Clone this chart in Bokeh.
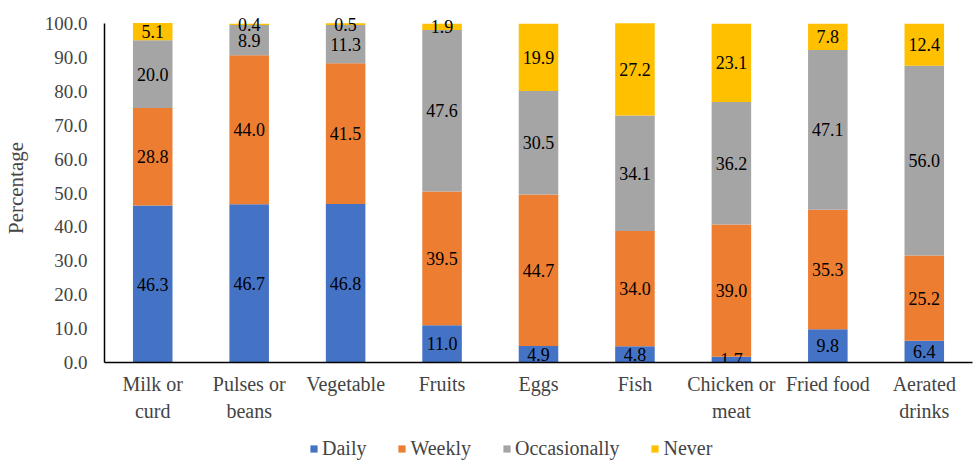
from bokeh.plotting import figure
from bokeh.layouts import column
from bokeh.models import (ColumnDataSource, NumeralTickFormatter, Legend, LegendItem, LabelSet,
                          FixedTicker, Range1d, CategoricalAxis, CustomJSTickFormatter)
from bokeh.embed import file_html
from bokeh.resources import INLINE

categories = ["Milk or curd", "Pulses or beans", "Vegetable", "Fruits", "Eggs",
              "Fish", "Chicken or meat", "Fried food", "Aerated drinks"]
tick_line1 = ["Milk or", "Pulses or", "Vegetable", "Fruits", "Eggs",
              "Fish", "Chicken or", "Fried food", "Aerated"]
tick_line2 = ["curd", "beans", "", "", "", "", "meat", "", "drinks"]
daily = [46.3, 46.7, 46.8, 11.0, 4.9, 4.8, 1.7, 9.8, 6.4]
weekly = [28.8, 44.0, 41.5, 39.5, 44.7, 34.0, 39.0, 35.3, 25.2]
occasionally = [20.0, 8.9, 11.3, 47.6, 30.5, 34.1, 36.2, 47.1, 56.0]
never = [5.1, 0.4, 0.5, 1.9, 19.9, 27.2, 23.1, 7.8, 12.4]
series_names = ["Daily", "Weekly", "Occasionally", "Never"]
colors = ["#4472C4", "#ED7D31", "#A5A5A5", "#FFC000"]
y_ticks = [0, 10, 20, 30, 40, 50, 60, 70, 80, 90, 100]

FONT = "Liberation Serif"

data = {"cat": categories, "Daily": daily, "Weekly": weekly,
        "Occasionally": occasionally, "Never": never}
source = ColumnDataSource(data)

p = figure(x_range=categories, y_range=Range1d(0, 103),
           frame_width=868, frame_height=349,
           output_backend="svg", toolbar_location=None,
           min_border_left=102, min_border_right=4, min_border_top=13, min_border_bottom=68)

renderers = p.vbar_stack(series_names, x="cat", width=0.41, color=colors,
                         line_color=None, source=source)

# value labels at segment midpoints
base = [0.0] * len(categories)
for name, vals in zip(series_names, [daily, weekly, occasionally, never]):
    mids = [b + v / 2 for b, v in zip(base, vals)]
    base = [b + v for b, v in zip(base, vals)]
    lsrc = ColumnDataSource({"x": categories, "y": mids, "t": ["%.1f" % v for v in vals]})
    p.add_layout(LabelSet(x="x", y="y", text="t", source=lsrc, text_align="center",
                          text_baseline="middle", text_font=FONT, text_font_size="18px",
                          text_color="#000000"))

p.xgrid.grid_line_color = None
p.ygrid.grid_line_color = None
p.outline_line_color = None

p.yaxis.ticker = FixedTicker(ticks=y_ticks)
p.yaxis.bounds = (0, 100)
p.yaxis.formatter = NumeralTickFormatter(format="0.0")
p.yaxis.major_tick_line_color = None
p.yaxis.minor_tick_line_color = None
p.yaxis.major_tick_out = 0
p.yaxis.major_tick_in = 0
p.yaxis.major_label_standoff = 17
p.yaxis.axis_label = "Percentage"
p.yaxis.axis_label_text_font = FONT
p.yaxis.axis_label_text_font_style = "normal"
p.yaxis.axis_label_text_font_size = "21px"
p.yaxis.axis_label_standoff = 14
p.yaxis.major_label_text_font = FONT
p.yaxis.major_label_text_font_size = "19px"
p.yaxis.axis_line_color = "#000000"
p.yaxis.axis_line_width = 1.5

fmt_code = "const i = cats.indexOf(tick); return i >= 0 ? lines[i] : '';"
p.xaxis.formatter = CustomJSTickFormatter(args=dict(cats=categories, lines=tick_line1), code=fmt_code)
p.xaxis.major_tick_line_color = None
p.xaxis.major_tick_out = 0
p.xaxis.major_tick_in = 0
p.xaxis.major_label_standoff = 10
p.xaxis.major_label_text_font = FONT
p.xaxis.major_label_text_font_size = "20px"
p.xaxis.axis_line_color = "#000000"
p.xaxis.axis_line_width = 1.5

ax2 = CategoricalAxis(formatter=CustomJSTickFormatter(args=dict(cats=categories, lines=tick_line2), code=fmt_code),
                      axis_line_color=None, major_tick_line_color=None,
                      major_tick_out=0, major_tick_in=0, minor_tick_line_color=None,
                      major_label_standoff=2, major_label_text_font=FONT,
                      major_label_text_font_size="20px")
p.add_layout(ax2, "below")

# legend strip below the chart (its renderers hold one off-range point each,
# so only their legend swatches show)
p2 = figure(width=974, height=30, x_range=Range1d(0, 1), y_range=Range1d(0, 1),
            output_backend="svg", toolbar_location=None,
            x_axis_location=None, y_axis_location=None,
            min_border_left=0, min_border_right=0, min_border_top=0, min_border_bottom=0)
p2.xgrid.grid_line_color = None
p2.ygrid.grid_line_color = None
p2.outline_line_color = None
legend_src = ColumnDataSource({"x": [-5], "top": [0]})
legend_renderers = [p2.vbar(x="x", top="top", width=0.1, color=c, line_color=None, source=legend_src)
                    for c in colors]
items = [LegendItem(label=n, renderers=[r]) for n, r in zip(series_names, legend_renderers)]
legend = Legend(items=items, orientation="horizontal", location=(205, 0),
                glyph_width=9, glyph_height=9, label_standoff=4, spacing=31,
                label_text_font=FONT, label_text_font_size="20px",
                border_line_color=None, background_fill_alpha=0,
                padding=3, margin=0)
p2.add_layout(legend, "center")

layout = column(p, p2, spacing=0)
open("out.html", "w").write(file_html(layout, INLINE))
